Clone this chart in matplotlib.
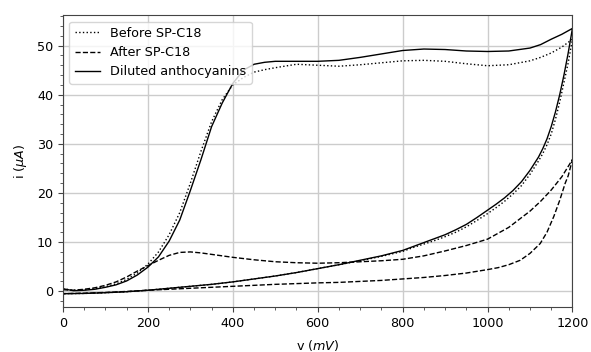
import matplotlib
matplotlib.use("Agg")
import matplotlib.pyplot as plt
from matplotlib.ticker import MultipleLocator

plt.rcParams["font.size"] = 9.2

# ---- Before SP-C18 (dotted) : forward then reverse scan ----
before_v_fwd = [0, 25, 50, 75, 100, 125, 150, 175, 200, 225, 250, 275, 300, 325, 350, 375, 400,
                425, 450, 475, 500, 550, 600, 650, 700, 750, 800, 850, 900, 950, 1000, 1050,
                1100, 1125, 1150, 1175, 1200]
before_i_fwd = [0.5, 0.2, 0.3, 0.5, 0.9, 1.5, 2.4, 3.7, 5.5, 8.0, 11.5, 16.0, 22.0, 28.5, 34.5, 39.0, 42.0,
                43.5, 44.6, 45.1, 45.5, 46.2, 46.0, 45.8, 46.1, 46.5, 46.9, 47.0, 46.8, 46.3, 45.9, 46.1,
                46.9, 47.6, 48.5, 49.7, 51.3]
before_v_rev = [1200, 1190, 1180, 1170, 1160, 1150, 1140, 1130, 1120, 1100, 1080, 1060, 1040, 1020,
                1000, 975, 950, 925, 900, 875, 850, 825, 800, 750, 700, 650, 600, 550, 500, 450,
                400, 350, 300, 250, 200, 150, 100, 50, 0]
before_i_rev = [51.3, 46.5, 42.5, 38.5, 35.0, 32.0, 29.8, 28.0, 26.5, 23.8, 21.5, 19.8, 18.3, 17.0,
                15.8, 14.4, 13.1, 12.0, 11.1, 10.3, 9.6, 8.9, 8.1, 7.1, 6.2, 5.4, 4.6, 3.8, 3.1, 2.5,
                1.9, 1.4, 1.0, 0.6, 0.2, -0.1, -0.3, -0.45, -0.5]

# ---- After SP-C18 (dashed) ----
after_v_fwd = [0, 25, 50, 75, 100, 125, 150, 175, 200, 225, 250, 275, 300, 325, 350, 400, 450, 500,
               550, 600, 650, 700, 750, 800, 850, 900, 950, 1000, 1050, 1100, 1125, 1150, 1175, 1200]
after_i_fwd = [0.3, 0.2, 0.4, 0.7, 1.2, 1.9, 2.9, 4.1, 5.2, 6.3, 7.3, 7.9, 8.0, 7.8, 7.5, 6.9, 6.4, 6.0,
               5.8, 5.7, 5.8, 6.0, 6.2, 6.5, 7.2, 8.2, 9.3, 10.6, 13.0, 16.3, 18.3, 20.6, 23.3, 26.8]
after_v_rev = [1200, 1190, 1183, 1170, 1156, 1140, 1124, 1100, 1077, 1050, 1025, 1000, 950, 900, 850,
               800, 750, 700, 650, 600, 550, 500, 450, 400, 350, 300, 250, 200, 150, 100, 50, 0]
after_i_rev = [26.8, 23.5, 22.0, 18.5, 15.2, 12.0, 9.7, 7.7, 6.3, 5.4, 4.8, 4.4, 3.7, 3.2, 2.8,
               2.5, 2.2, 2.0, 1.8, 1.7, 1.55, 1.4, 1.2, 1.0, 0.8, 0.6, 0.4, 0.2, -0.05, -0.25, -0.4, -0.5]

# ---- Diluted anthocyanins (solid) ----
dil_v_fwd = [0, 25, 50, 75, 100, 125, 150, 175, 200, 225, 250, 275, 300, 325, 350, 375, 400,
             425, 450, 475, 500, 550, 600, 650, 700, 750, 800, 850, 900, 950, 1000, 1050,
             1100, 1125, 1150, 1175, 1200]
dil_i_fwd = [0.5, 0.1, 0.2, 0.4, 0.8, 1.3, 2.1, 3.3, 4.9, 7.0, 10.2, 14.5, 20.5, 26.8, 33.5, 38.3, 42.3,
             45.0, 46.2, 46.6, 46.8, 46.8, 46.8, 47.0, 47.6, 48.3, 49.0, 49.3, 49.2, 48.9, 48.8, 48.9,
             49.5, 50.2, 51.3, 52.3, 53.5]
dil_v_rev = [1200, 1190, 1180, 1170, 1160, 1150, 1140, 1130, 1120, 1100, 1080, 1060, 1040, 1020,
             1000, 975, 950, 925, 900, 875, 850, 825, 800, 750, 700, 650, 600, 550, 500, 450,
             400, 350, 300, 250, 200, 150, 100, 50, 0]
dil_i_rev = [53.5, 48.5, 44.0, 40.0, 36.5, 33.5, 31.0, 29.0, 27.3, 24.6, 22.3, 20.5, 19.0, 17.7,
             16.5, 15.0, 13.6, 12.5, 11.5, 10.7, 9.9, 9.1, 8.3, 7.2, 6.3, 5.4, 4.6, 3.8, 3.1, 2.5,
             1.9, 1.4, 1.0, 0.6, 0.2, -0.1, -0.3, -0.45, -0.5]

labels = ["Before SP-C18", "After SP-C18", "Diluted anthocyanins"]

fig = plt.figure(figsize=(5.91, 3.52), dpi=100)
ax = fig.add_axes([0.1066, 0.128, 0.862, 0.829])

lw = 1.0
ax.plot(before_v_fwd + before_v_rev, before_i_fwd + before_i_rev, color="black", ls=":", lw=lw, label=labels[0])
ax.plot(after_v_fwd + after_v_rev, after_i_fwd + after_i_rev, color="black", ls="--", lw=lw, label=labels[1])
ax.plot(dil_v_fwd + dil_v_rev, dil_i_fwd + dil_i_rev, color="black", ls="-", lw=lw, label=labels[2])

ax.set_xlim(0, 1200)
ax.xaxis.set_major_locator(MultipleLocator(200))
ax.xaxis.set_minor_locator(MultipleLocator(50))
ax.yaxis.set_major_locator(MultipleLocator(10))
ax.yaxis.set_minor_locator(MultipleLocator(2))
ax.grid(True, which="major", color="#cccccc", lw=1.0)
ax.set_axisbelow(True)
for s in ax.spines.values():
    s.set_color("#444444")
ax.tick_params(which="both", color="#444444")

ax.set_xlabel(r"v ($mV$)", labelpad=6)
ax.set_ylabel(r"i ($\mu A$)", labelpad=6)
ax.legend(loc="upper left")

fig.savefig("out.png", dpi=100)
